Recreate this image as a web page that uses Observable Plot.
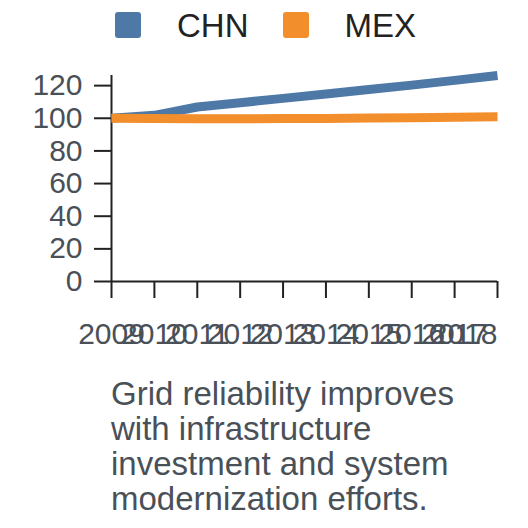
<!DOCTYPE html>
<html>
<head>
<meta charset="utf-8">
<script src="https://cdn.jsdelivr.net/npm/d3@7"></script>
<script src="https://cdn.jsdelivr.net/npm/@observablehq/plot@0.6"></script>
<style>
  html, body { margin: 0; padding: 0; background: #fff; }
  body { width: 528px; height: 528px; overflow: hidden; font-family: "Liberation Sans", Arial, sans-serif; }
  #legend { height: 50px; display: flex; align-items: center; padding-left: 115px; box-sizing: border-box; }
  .item { display: flex; align-items: center; margin-right: 34px; }
  .sw { width: 26px; height: 26px; border-radius: 3px; margin-right: 36px; }
  .lab { font-size: 33px; line-height: 33px; color: #222; }
  #chart svg { display: block; overflow: visible; }
  #caption { padding-left: 111px; width: 370px; font-size: 33px; line-height: 35px; color: #4a5058; }
</style>
</head>
<body>
<div id="legend"></div>
<div id="chart"></div>
<div id="caption"></div>
<script>
const years = [2009, 2010, 2011, 2012, 2013, 2014, 2015, 2016, 2017, 2018];
const chn = [100, 101.8, 106.9, 109.5, 112.2, 114.9, 117.6, 120.3, 123.2, 126.2];
const mex = [100, 99.9, 99.7, 99.7, 99.8, 99.9, 100.1, 100.3, 100.6, 100.9];
const seriesNames = ["CHN", "MEX"];
const seriesColors = ["#4e79a7", "#f28e2b"];
const yTicks = [0, 20, 40, 60, 80, 100, 120];
const captionText = "Grid reliability improves with infrastructure investment and system modernization efforts.";

const legend = document.getElementById("legend");
seriesNames.forEach((n, i) => {
  const it = document.createElement("div"); it.className = "item";
  const sw = document.createElement("div"); sw.className = "sw"; sw.style.background = seriesColors[i];
  const lb = document.createElement("span"); lb.className = "lab"; lb.textContent = n;
  it.appendChild(sw); it.appendChild(lb); legend.appendChild(it);
});

const fmt = d => String(d);
const axisStroke = "#222";
const textFill = "#4a5058";
const ymax = d3.max([...chn, ...mex]);

const chart = Plot.plot({
  width: 528,
  height: 326,
  marginLeft: 111,
  marginRight: 31,
  marginTop: 25,
  marginBottom: 95,
  style: { fontSize: "30px", fontFamily: "'Liberation Sans', Arial, sans-serif", overflow: "visible" },
  x: { type: "linear", domain: [years[0], years[years.length - 1]] },
  y: { domain: [0, ymax] },
  marks: [
    Plot.axisY({ ticks: yTicks, tickSize: 17, tickPadding: 12, stroke: axisStroke, fill: textFill, strokeWidth: 2, label: null }),
    Plot.axisX({ ticks: years.slice(0, -1), tickFormat: fmt, tickSize: 17, tickPadding: 24, stroke: axisStroke, fill: textFill, strokeWidth: 2, label: null }),
    Plot.axisX({ ticks: years.slice(-1), tickFormat: fmt, tickSize: 17, tickPadding: 24, stroke: axisStroke, fill: textFill, strokeWidth: 2, textAnchor: "end", label: null }),
    Plot.ruleY([0], { stroke: axisStroke, strokeWidth: 2 }),
    Plot.ruleX([years[0]], { stroke: axisStroke, strokeWidth: 2 }),
    Plot.line(years, { x: years, y: chn, stroke: seriesColors[0], strokeWidth: 9, strokeLinecap: "butt", strokeLinejoin: "round" }),
    Plot.line(years, { x: years, y: mex, stroke: seriesColors[1], strokeWidth: 9, strokeLinecap: "butt", strokeLinejoin: "round" })
  ]
});
document.getElementById("chart").appendChild(chart);
document.getElementById("caption").textContent = captionText;
</script>
</body>
</html>
